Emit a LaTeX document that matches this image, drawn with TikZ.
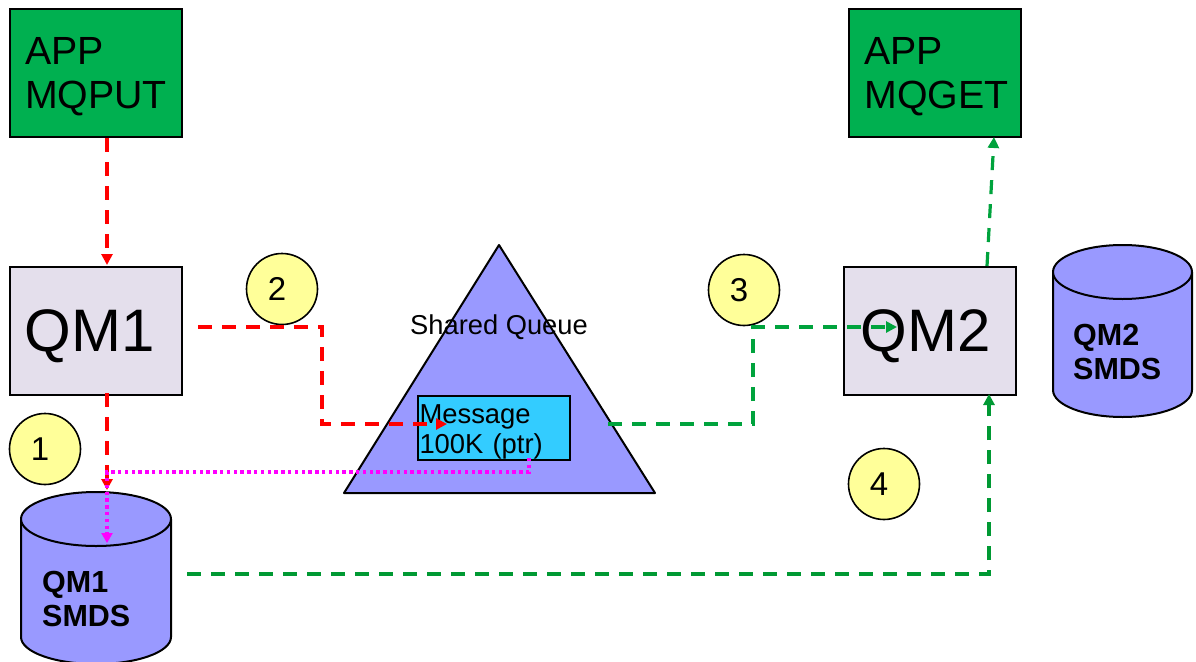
\documentclass[tikz,border=0pt]{standalone}
\usepackage{fontspec}
\setmainfont{Liberation Sans}
\usetikzlibrary{arrows.meta}
\definecolor{appgreen}{HTML}{00B050}
\definecolor{qmfill}{HTML}{E4DFEC}
\definecolor{shapeblue}{HTML}{9999FF}
\definecolor{msgblue}{HTML}{33CCFF}
\definecolor{noteyellow}{HTML}{FFFF99}
\definecolor{flowgreen}{HTML}{00A33D}
\definecolor{flowdark}{HTML}{009933}
\definecolor{ptrpink}{HTML}{FF00FF}
\tikzset{
  box/.style={draw=black,line width=2pt,inner sep=0pt,minimum width=#1,minimum height=128pt},
  appbox/.style={box=172pt,fill=appgreen,text width=141pt,align=left,font=\fontsize{39.3}{44}\selectfont},
  qmbox/.style={box=172pt,fill=qmfill,font=\fontsize{60}{66}\selectfont,text height=40pt,text depth=0pt},
  stepnote/.style={circle,draw=black,line width=1.6pt,fill=noteyellow,minimum size=71pt,inner sep=0pt,font=\fontsize{33}{38}\selectfont},
  shapeline/.style={draw=black,line width=2pt,fill=shapeblue,line join=round},
  smds/.style={font=\fontsize{30.5}{34}\selectfont\bfseries,align=left,anchor=north west,inner sep=0pt},
  flow/.style={line width=3.2pt,dash pattern=on 14pt off 10pt,-{Triangle[length=11pt,width=11pt]}},
  redflow/.style={flow,red},
  greenflow/.style={flow,flowgreen},
  darkflow/.style={flow,flowdark},
  ptrflow/.style={line width=3.2pt,ptrpink,dash pattern=on 3.4pt off 3.4pt,-{Triangle[length=10pt,width=11pt]}}
}
\begin{document}
\begin{tikzpicture}[x=1pt,y=-1pt]
\useasboundingbox (0,0) rectangle (1196,661);
% boxes
\node[appbox] (app1) at (95.5,73) {\rule{0pt}{34pt}APP\\MQPUT};
\node[appbox] (app2) at (935,73) {\rule{0pt}{34pt}APP\\MQGET};
\node[qmbox] (qm1) at (95.5,331) {QM1\kern11pt};
\node[qmbox] (qm2) at (930,331) {QM2\kern9pt};
% triangle
\draw[shapeline] (499,245) -- (655,493) -- (344,493) -- cycle;
\node[font=\fontsize{27.3}{32}\selectfont,inner sep=0pt] (sq) at (499,327) {Shared Queue};
\node[draw=black,line width=2pt,fill=msgblue,minimum width=152pt,minimum height=64pt,inner sep=0pt,text width=149pt,align=left,font=\fontsize{27.4}{30}\selectfont] (msg) at (494,428) {\rule{0pt}{26pt}Message\\100K (ptr)};
% cylinders
\draw[shapeline] (21,519) -- (21,637) arc[start angle=180,end angle=0,x radius=75,y radius=27] -- (171,519) -- cycle;
\draw[shapeline] (96,519) ellipse[x radius=75,y radius=27];
\draw[shapeline] (1053,272) -- (1053,390) arc[start angle=180,end angle=0,x radius=69.5,y radius=27] -- (1192,272);
\draw[shapeline] (1122.5,272) ellipse[x radius=69.5,y radius=27];
\node[smds] (lab1) at (42,571) {QM1\\SMDS};
\node[smds] (lab2) at (1073,324) {QM2\\SMDS};
% numbered circles
\node[stepnote] (c1) at (45,449) {1\kern10pt};
\node[stepnote] (c2) at (282,289) {2\kern10pt};
\node[stepnote] (c3) at (744,290) {3\kern10pt};
\node[stepnote] (c4) at (884,484) {4\kern10pt};
% free ends of connectors
\coordinate (a1s) at (107,138);
\coordinate (q1n) at (107,265);
\coordinate (q1e) at (198,327);
\coordinate (m1w) at (447,424);
\coordinate (q1s) at (107,393);
\coordinate (s1t) at (107,490);
\coordinate (s1i) at (107,543);
\coordinate (mss) at (529,458);
\coordinate (tre) at (608,424);
\coordinate (q2w) at (897,327);
\coordinate (q2n) at (987,266);
\coordinate (a2s) at (994,137);
\coordinate (s1e) at (187,574);
\coordinate (q2s) at (989,394);
% connectors
\draw[redflow] (a1s) -- (q1n);
\draw[redflow] (q1e) -- (322,327) -- (322,424) -- (m1w);
\draw[redflow] (q1s) -- (s1t);
\draw[ptrflow] (mss) -- (529,472) -- (107,472) -- (s1i);
\draw[greenflow] (tre) -- (753,424) -- (753,327) -- (q2w);
\draw[greenflow] (q2n) -- (a2s);
\draw[darkflow] (s1e) -- (989,574) -- (q2s);
\end{tikzpicture}
\end{document}
